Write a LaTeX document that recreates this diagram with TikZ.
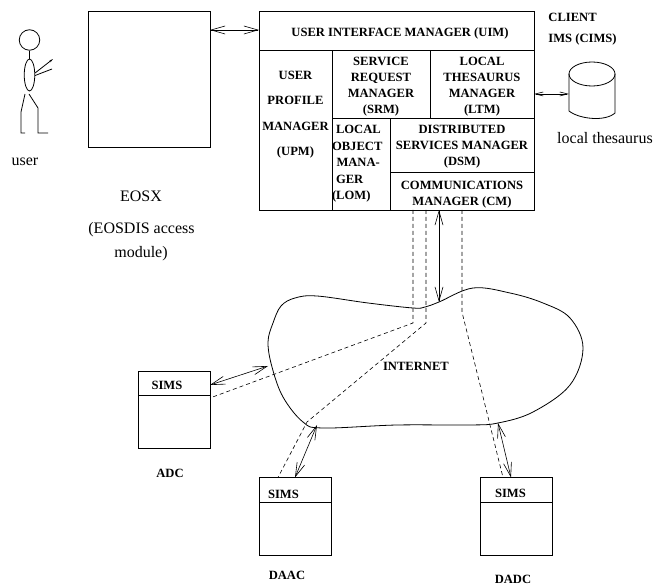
\documentclass[tikz,border=0pt]{standalone}
\usepackage{fontspec}
\setmainfont{Liberation Serif}
\usetikzlibrary{arrows.meta,positioning,shapes.geometric}
\newcommand{\nudge}[1]{\rule[#1]{0pt}{0pt}}

\begin{document}
\begin{tikzpicture}[
  x=1pt,y=-1pt,
  line width=0.8pt,
  font=\fontsize{16}{18}\selectfont,
  cell/.style={draw,inner sep=0pt,outer sep=0pt,anchor=north west,align=center,
               font=\fontsize{12.6}{16}\selectfont\bfseries},
  plain/.style={inner sep=0pt,align=center},
  bold/.style={inner sep=0pt,align=left,font=\fontsize{12.6}{21}\selectfont\bfseries},
  sims/.style={cell,minimum width=72pt,minimum height=24.5pt},
  simsbody/.style={draw,inner sep=0pt,outer sep=0pt,anchor=north west,
                   minimum width=72pt,minimum height=53pt},
  link/.style={line width=0.6pt,{Straight Barb[length=14pt,width=8pt]}-{Straight Barb[length=14pt,width=8pt]}},
  slink/.style={line width=0.6pt,{Straight Barb[length=8pt,width=4pt]}-{Straight Barb[length=8pt,width=4pt]}},
  dashlink/.style={line width=0.6pt,dash pattern=on 4pt off 3pt}]

\useasboundingbox (0,0) rectangle (654,585);

% ---- user -------------------------------------------------------------
\node[draw,circle,minimum size=20.5pt,inner sep=0pt] (head) at (29.5,40) {};
\node[draw,ellipse,minimum width=10.5pt,minimum height=32pt,inner sep=0pt] (body) at (29.5,75) {};
\draw (head) -- (body);
\coordinate (handA) at (53,59);
\coordinate (handB) at (52,69);
\draw[-{Stealth[length=4pt,width=2pt]}] (body.20) -- (handA);
\draw (body.-5) -- (handB);
\draw (25,94) -- (21,112) -- (21,133) -- (25,133);
\draw (29,94) -- (38,108) -- (38,133) -- (48,133);
\node[plain] (user) at (25,162) {user};

% ---- EOSX -------------------------------------------------------------
\node[cell,minimum width=122pt,minimum height=136pt] (eosbox) at (88,11.5) {};
\node[plain] (eosx) at (141,196) {EOSX};
\node[plain] (eosdis) at (141.5,230) {(EOSDIS access};
\node[plain] (module) at (141,254) {module)};

% ---- client ims -------------------------------------------------------
\node[cell,minimum width=275pt,minimum height=38.5pt] (uim) at (259,11.5)
  {\nudge{15pt}\hspace*{7pt}USER INTERFACE MANAGER (UIM)};
\node[cell,minimum width=73pt,minimum height=160pt,font=\fontsize{12.6}{25.5}\selectfont\bfseries] (upm) at (259,50)
  {USER\\PROFILE\\MANAGER\\(UPM)\nudge{-33pt}};
\node[cell,minimum width=98pt,minimum height=68pt] (srm) at (332,50)
  {\nudge{14pt}SERVICE\\REQUEST\\MANAGER\\(SRM)};
\node[cell,minimum width=104pt,minimum height=68pt] (ltm) at (430,50)
  {\nudge{14pt}LOCAL\\THESAURUS\\MANAGER\\(LTM)};
\node[cell,minimum width=58pt,minimum height=92pt,text width=58pt,align=left,
      font=\fontsize{12.6}{16.5}\selectfont\bfseries] (lom) at (332,118)
  {\hspace*{4pt}LOCAL\\OBJECT\\\hspace*{4.5pt}MANA-\\\hspace*{4pt}GER\\(LOM)};
\node[cell,minimum width=144pt,minimum height=54pt] (dsm) at (390,118)
  {\nudge{11pt}DISTRIBUTED\\SERVICES MANAGER\\(DSM)};
\node[cell,minimum width=144pt,minimum height=38pt] (cm) at (390,172)
  {\nudge{15pt}COMMUNICATIONS\\MANAGER (CM)};
\node[bold,anchor=north west] (cims) at (548,12.5) {CLIENT\\IMS (CIMS)};

\node[draw,ellipse,minimum width=46pt,minimum height=24pt,inner sep=0pt,outer sep=0pt] (thes) at (592,74) {};
\draw (thes.west) -- ++(0,37) .. controls ++(10,8) and ++(-10,9) .. (thes.east |- 0,113) -- (thes.east);
\node[plain] (thesname) at (605,138) {local thesaurus};

% ---- internet ---------------------------------------------------------
\draw plot[smooth cycle,tension=0.6] coordinates {
  (295,298) (317,296) (368,303) (413,308) (425,307) (439,302) (473,288) (510,293)
  (543,303) (570,318) (583,348) (570,385) (533,412) (498,423) (470,425) (397,425)
  (323,428) (303,422) (283,397) (272,367) (268,342) (273,323) (281,306)};
\node[cell,draw=none,anchor=center] (net) at (416,366) {INTERNET};
\coordinate (netTop) at (439,302);
\coordinate (netLeft) at (268,366);
\coordinate (netLow) at (317,425);
\coordinate (netRight) at (498,423);

% ---- sites ------------------------------------------------------------
\node[sims,text width=72pt,align=left] (adc) at (138,371)
  {\nudge{13pt}\hspace*{13.5pt}SIMS};
\node[simsbody] (adcbody) at (138,395.5) {};
\node[sims,text width=72pt,align=left] (daac) at (259,477.5)
  {\nudge{17pt}\hspace*{9pt}SIMS};
\node[simsbody] (daacbody) at (259,502) {};
\node[sims,text width=72pt,align=left] (dadc) at (480,477.5)
  {\nudge{15pt}\hspace*{15pt}SIMS};
\node[simsbody] (dadcbody) at (480,502) {};
\node[cell,draw=none,anchor=center] (adcname) at (170,473) {ADC};
\node[cell,draw=none,anchor=center] (daacname) at (287,575) {DAAC};
\node[cell,draw=none,anchor=center] (dadcname) at (513,579) {DADC};

% ---- edges ------------------------------------------------------------
\draw[link] (eosbox.east |- 0,30) -- (uim.west |- 0,30);
\draw[slink] (ltm.east |- 0,94) -- (thes.west |- 0,94);
\draw[link] (cm.south -| netTop) -- (netTop);
\draw[link] (adc.east |- 0,385) -- (netLeft);
\draw[link] (daac.north -| 295,0) -- (netLow);
\draw[link] (dadc.north -| 511,0) -- (netRight);

\coordinate (bendA) at (413,323);
\coordinate (bendB) at (426,323);
\coordinate (bendC) at (462,312);
\coordinate (bendD) at (307,422);
\draw[dashlink] (cm.south -| bendA) -- (bendA) -- (adc.south east |- 0,398);
\draw[dashlink] (cm.south -| bendB) -- (bendB) -- (bendD) -- (daac.north -| 278,0);
\draw[dashlink] (cm.south -| bendC) -- (bendC) -- (dadc.north -| 503,0);
\end{tikzpicture}
\end{document}
